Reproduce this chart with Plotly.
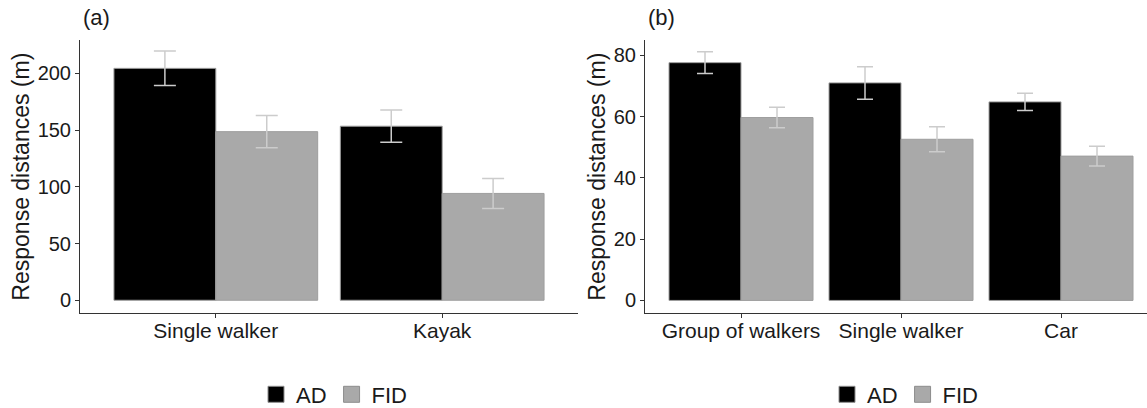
import plotly.graph_objects as go

W, H = 1147, 408

# ---- data ----
cats_a = ["Single walker", "Kayak"]
ad_a = [204.5, 153.5]
ad_a_err = [15.2, 14.2]
fid_a = [148.7, 94.2]
fid_a_err = [14.3, 13.2]

cats_b = ["Group of walkers", "Single walker", "Car"]
ad_b = [77.6, 71.0, 64.8]
ad_b_err = [3.55, 5.3, 2.85]
fid_b = [59.7, 52.6, 47.1]
fid_b_err = [3.35, 4.1, 3.25]

series_names = ["AD", "FID"]
yticks_a = [0, 50, 100, 150, 200]
yticks_b = [0, 20, 40, 60, 80]

# ---- style ----
FONT = "Liberation Sans, Arial, sans-serif"
AD_COLOR = "#000000"
FID_COLOR = "#A9A9A9"
OUTLINE = "#9e9e9e"
ERR_COLOR = "#cccccc"
TXT = "#1a1a1a"
AX = "#333333"

fig = go.Figure()


def add_panel(cats, ad, ad_err, fid, fid_err, xa, ya, cap):
    for name, vals, errs, col in [(series_names[0], ad, ad_err, AD_COLOR),
                                  (series_names[1], fid, fid_err, FID_COLOR)]:
        fig.add_trace(go.Bar(
            x=cats, y=vals, name=name, showlegend=False,
            marker=dict(color=col, line=dict(color=OUTLINE, width=1)),
            error_y=dict(type="data", array=errs, color=ERR_COLOR,
                         thickness=1.5, width=cap),
            xaxis=xa, yaxis=ya,
        ))


add_panel(cats_a, ad_a, ad_a_err, fid_a, fid_a_err, "x", "y", 11)
add_panel(cats_b, ad_b, ad_b_err, fid_b, fid_b_err, "x2", "y2", 8)

# legend proxies
for leg, xa, ya in [("legend", "x", "y"), ("legend2", "x2", "y2")]:
    for name, col in zip(series_names, [AD_COLOR, FID_COLOR]):
        fig.add_trace(go.Scatter(
            x=[None], y=[None], mode="markers", name=name, legend=leg,
            marker=dict(symbol="square", size=18, color=col,
                        line=dict(color="#8c8c8c", width=1)),
            xaxis=xa, yaxis=ya,
        ))

ydom = [1 - 313.3 / H, 1 - 40 / H]
xdom_a = [80 / W, 578 / W]
xdom_b = [645 / W, 1.0]

axis_common = dict(showline=True, linecolor=AX, linewidth=1, ticks="outside",
                   ticklen=4, tickcolor=AX, tickwidth=1, showgrid=False,
                   zeroline=False, automargin=False)
xtickfont = dict(family=FONT, size=21, color=TXT)
ytickfont = dict(family=FONT, size=20, color=TXT)

ytitle = dict(text="Response distances (m)", standoff=1,
              font=dict(family=FONT, size=23, color=TXT))

fig.update_layout(
    width=W, height=H,
    margin=dict(l=0, r=0, t=0, b=0, autoexpand=False),
    paper_bgcolor="white", plot_bgcolor="white",
    barmode="group", bargap=0.1, bargroupgap=0,
    font=dict(family=FONT, color=TXT),
    xaxis=dict(domain=xdom_a, anchor="y", range=[-0.6, 1.6],
               ticklabelstandoff=-6, tickfont=xtickfont, **axis_common),
    yaxis=dict(domain=ydom, anchor="x", range=[-11.5, 229.5], tickvals=yticks_a,
               title=ytitle, tickfont=ytickfont, **axis_common),
    xaxis2=dict(domain=xdom_b, anchor="y2", range=[-0.6, -0.6 + (W - 645) / 160.0],
                ticklabelstandoff=-6, tickfont=xtickfont, **axis_common),
    yaxis2=dict(domain=ydom, anchor="x2", range=[-4.2, 85], tickvals=yticks_b,
                title=ytitle, tickfont=ytickfont, **axis_common),
    legend=dict(orientation="h", x=334.5 / W, xanchor="center", y=1 - 394.5 / H,
                yanchor="middle", font=dict(family=FONT, size=22, color=TXT),
                bgcolor="rgba(0,0,0,0)"),
    legend2=dict(orientation="h", x=905.5 / W, xanchor="center", y=1 - 394.5 / H,
                 yanchor="middle", font=dict(family=FONT, size=22, color=TXT),
                 bgcolor="rgba(0,0,0,0)"),
    annotations=[
        dict(text="(a)", x=81 / W, y=1 - 3 / H, xref="paper", yref="paper",
             xanchor="left", yanchor="top", showarrow=False,
             font=dict(family=FONT, size=22, color=TXT)),
        dict(text="(b)", x=646 / W, y=1 - 3 / H, xref="paper", yref="paper",
             xanchor="left", yanchor="top", showarrow=False,
             font=dict(family=FONT, size=22, color=TXT)),
    ],
)

fig.write_html(
    "out.html",
    config={"displayModeBar": False},
    post_script="document.body.style.margin='0';document.body.style.padding='0';",
)
